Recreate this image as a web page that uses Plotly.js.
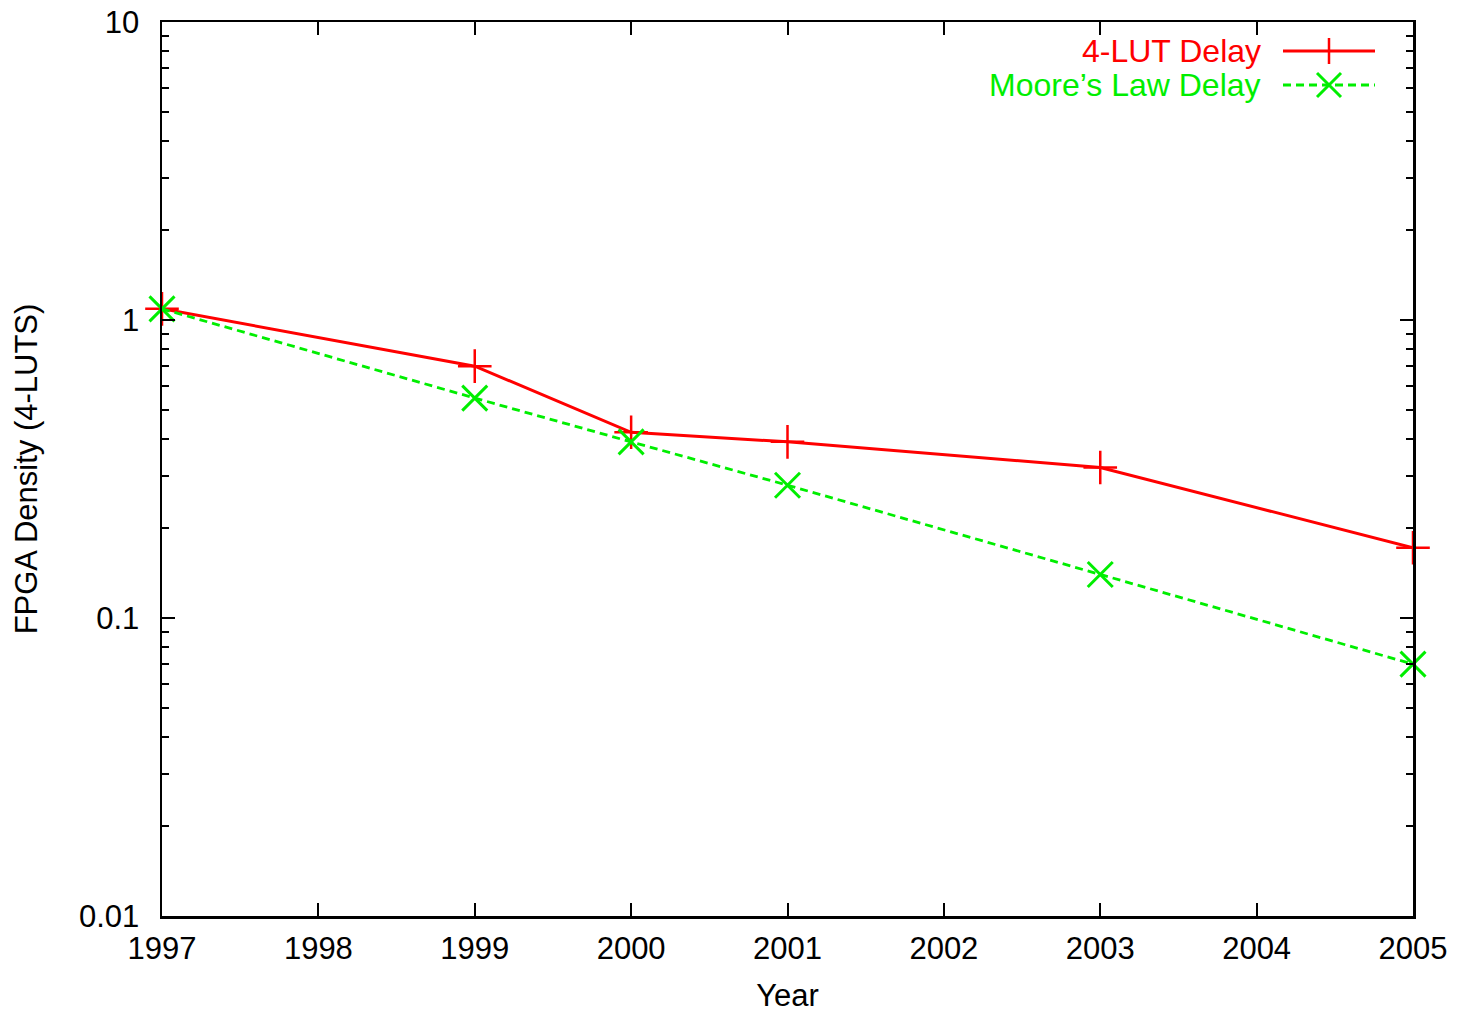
<!DOCTYPE html>
<html>
<head>
<meta charset="utf-8">
<script src="https://cdn.plot.ly/plotly-3.0.1.min.js"></script>
<style>html,body{margin:0;padding:0;background:#fff;}#chart{width:1457px;height:1013px;}</style>
</head>
<body>
<div id="chart"></div>
<script>
const years = [1997, 1999, 2000, 2001, 2003, 2005];
const lutDelay = [1.09, 0.70, 0.42, 0.39, 0.32, 0.172];
const mooreDelay = [1.09, 0.547, 0.39, 0.279, 0.14, 0.070];
const seriesNames = ["4-LUT Delay", "Moore\u2019s Law Delay"];
const xTicks = [1997, 1998, 1999, 2000, 2001, 2002, 2003, 2004, 2005];
const yTicks = [0.01, 0.1, 1, 10];
const yTickText = ["0.01", "0.1", "1", "10"];

const red = "#ff0000", green = "#00ee00";
const FS = 31;
const minorVals = [];
for (let e = -2; e < 1; e++) for (let d = 2; d <= 9; d++) minorVals.push(d * Math.pow(10, e));

const traces = [
  {x: years, y: lutDelay, name: seriesNames[0], type: 'scatter', mode: 'lines+markers', cliponaxis: false,
   line: {color: red, width: 3}, marker: {symbol: 'cross-thin-open', size: 24, line: {color: red, width: 2.5}}},
  {x: years, y: mooreDelay, name: seriesNames[1], type: 'scatter', mode: 'lines+markers', cliponaxis: false,
   line: {color: green, width: 2.8, dash: '8px,5px'}, marker: {symbol: 'x-thin-open', size: 25, line: {color: green, width: 3}}}
];

// Custom legend (gnuplot style: text left, key sample right), in paper coordinates
const plotL = 162, plotR = 1413, plotT = 22, plotB = 916;
const px = v => (v - plotL) / (plotR - plotL);
const py = v => (plotB - v) / (plotB - plotT);
const legendRows = [
  {y: 51, color: red, dash: 'solid', sym: 'plus'},
  {y: 85, color: green, dash: '8px,5px', sym: 'x'}
];
const shapes = [], annotations = [];
legendRows.forEach((r, i) => {
  annotations.push({xref: 'paper', yref: 'paper', x: px(1263), y: py(r.y), xanchor: 'right', yanchor: 'middle',
    text: seriesNames[i], showarrow: false, font: {size: 32, color: r.color}});
  shapes.push({type: 'line', xref: 'paper', yref: 'paper', x0: px(1283), x1: px(1375), y0: py(r.y), y1: py(r.y),
    line: {color: r.color, width: r.dash === 'solid' ? 3 : 2.8, dash: r.dash}});
  const cx = 1329, h = 12;
  if (r.sym === 'plus') {
    shapes.push({type: 'line', xref: 'paper', yref: 'paper', x0: px(cx), x1: px(cx), y0: py(r.y - h - 1), y1: py(r.y + h + 1), line: {color: r.color, width: 2.5}});
  } else {
    shapes.push({type: 'line', xref: 'paper', yref: 'paper', x0: px(cx - h), x1: px(cx + h), y0: py(r.y - h), y1: py(r.y + h), line: {color: r.color, width: 3}});
    shapes.push({type: 'line', xref: 'paper', yref: 'paper', x0: px(cx - h), x1: px(cx + h), y0: py(r.y + h), y1: py(r.y - h), line: {color: r.color, width: 3}});
  }
});

const layout = {
  width: 1457, height: 1013,
  margin: {l: plotL, r: 1457 - plotR, t: plotT, b: 1013 - plotB},
  paper_bgcolor: '#fff', plot_bgcolor: '#fff',
  font: {family: 'Liberation Sans, Arial, sans-serif', size: FS, color: '#000'},
  showlegend: false,
  shapes: shapes, annotations: annotations,
  xaxis: {
    range: [1997, 2005], tickmode: 'array', tickvals: xTicks, ticktext: xTicks.map(String),
    showgrid: false, zeroline: false, showline: true, linecolor: '#000', linewidth: 2.5,
    ticks: 'inside', ticklen: 13, tickwidth: 2, tickcolor: '#000', mirror: 'allticks',
    ticklabelstandoff: 3,
    title: {text: 'Year', font: {size: FS}, standoff: 23}
  },
  yaxis: {
    type: 'log', range: [-2, 1], tickmode: 'array', tickvals: yTicks, ticktext: yTickText,
    showgrid: false, zeroline: false, showline: true, linecolor: '#000', linewidth: 2.5,
    ticks: 'inside', ticklen: 13, tickwidth: 2, tickcolor: '#000', mirror: 'allticks',
    ticklabelstandoff: 14,
    minor: {tickmode: 'array', tickvals: minorVals, ticks: 'inside', ticklen: 7, tickwidth: 2, tickcolor: '#000', showgrid: false},
    title: {text: 'FPGA Density (4-LUTS)', font: {size: FS}, standoff: 32}
  }
};

Plotly.newPlot('chart', traces, layout, {displayModeBar: false, staticPlot: true});
</script>
</body>
</html>
